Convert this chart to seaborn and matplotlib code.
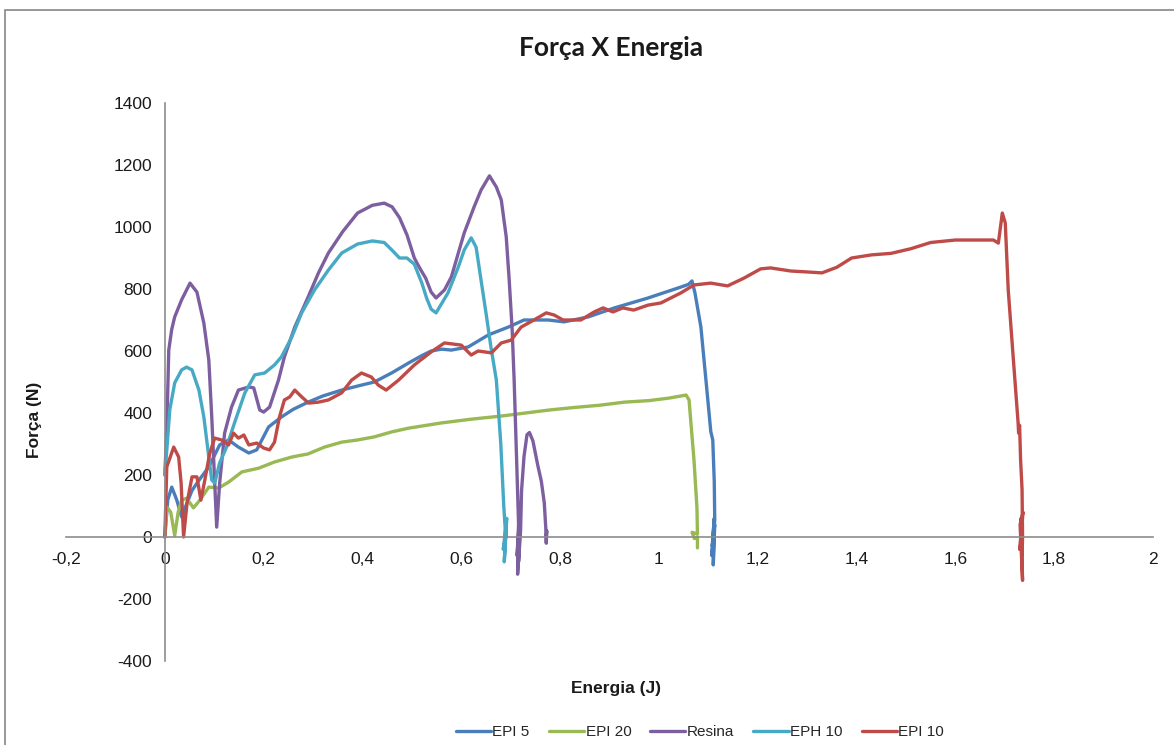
import matplotlib
matplotlib.use("Agg")
import matplotlib.pyplot as plt
from matplotlib.patches import Rectangle
from matplotlib.ticker import FuncFormatter
import numpy as np
import pandas as pd
import seaborn as sns

# Impact test curves: force (N) against absorbed energy (J)
epi5_e = [0, 0.006, 0.014, 0.024, 0.034, 0.045, 0.055, 0.07, 0.089, 0.111, 0.129, 0.149, 0.17, 0.186,
          0.21, 0.236, 0.26, 0.29, 0.32, 0.358, 0.398, 0.424, 0.46, 0.493, 0.52, 0.539, 0.56, 0.58, 0.614,
          0.655, 0.695, 0.727, 0.776, 0.808, 0.857, 0.91, 0.978, 1.044, 1.06, 1.067, 1.073, 1.085, 1.099,
          1.105, 1.109, 1.112, 1.113, 1.108, 1.112, 1.107, 1.113, 1.11, 1.111]
epi5_f = [0, 120, 161, 120, 65, 110, 150, 185, 226, 297, 313, 290, 271, 281,
          355, 387, 412, 435, 455, 474, 490, 500, 530, 561, 585, 600, 606, 603, 613,
          652, 677, 700, 700, 694, 710, 739, 771, 806, 815, 826, 787, 677, 442,
          340, 313, 180, 55, -30, 60, -60, 40, -90, 0]

epi20_e = [0, 0.004, 0.012, 0.02, 0.027, 0.034, 0.044, 0.058, 0.071, 0.089, 0.109, 0.129, 0.156, 0.19,
           0.222, 0.257, 0.29, 0.323, 0.358, 0.39, 0.424, 0.459, 0.493, 0.56, 0.62, 0.68, 0.73, 0.78,
           0.83, 0.88, 0.93, 0.98, 1.02, 1.045, 1.055, 1.061, 1.071, 1.077, 1.078, 1.067, 1.072, 1.078,
           1.078]
epi20_f = [0, 97, 80, 5, 80, 119, 125, 94, 119, 161, 158, 177, 210, 222,
           242, 258, 268, 290, 306, 313, 323, 339, 351, 368, 380, 390, 400, 410,
           418, 425, 435, 440, 448, 455, 458, 442, 248, 94, 10, 15, -5, 0,
           -35]

resina_e = [0, 0.004, 0.008, 0.014, 0.02, 0.034, 0.051, 0.065, 0.079, 0.089, 0.095, 0.101, 0.105,
            0.111, 0.121, 0.135, 0.149, 0.17, 0.18, 0.192, 0.2, 0.212, 0.23, 0.242, 0.263, 0.29,
            0.311, 0.331, 0.36, 0.39, 0.42, 0.444, 0.46, 0.475, 0.49, 0.505, 0.515, 0.528, 0.539,
            0.549, 0.566, 0.58, 0.594, 0.606, 0.626, 0.64, 0.657, 0.671, 0.681, 0.691, 0.697, 0.703,
            0.707, 0.712, 0.716, 0.713, 0.718, 0.714, 0.719, 0.716, 0.72, 0.722, 0.727, 0.733, 0.738,
            0.745, 0.755, 0.762, 0.768, 0.771, 0.772, 0.773, 0.772]
resina_f = [200, 350, 603, 670, 710, 765, 819, 790, 690, 571, 387, 174, 32,
            174, 335, 419, 474, 484, 481, 410, 403, 419, 506, 581, 677, 774,
            852, 916, 985, 1045, 1070, 1077, 1065, 1030, 975, 900, 870, 835, 790,
            771, 797, 839, 916, 981, 1065, 1119, 1165, 1129, 1087, 968, 829, 668,
            506, 250, 40, -60, 60, -120, 80, -80, 20, 150, 260, 330, 337,
            310, 230, 180, 110, 30, -20, 20, 0]

eph10_e = [0, 0.004, 0.01, 0.02, 0.034, 0.044, 0.055, 0.069, 0.079, 0.089, 0.095, 0.101, 0.111,
           0.125, 0.141, 0.162, 0.182, 0.202, 0.222, 0.236, 0.257, 0.277, 0.303, 0.331, 0.358, 0.39,
           0.42, 0.444, 0.46, 0.475, 0.49, 0.505, 0.52, 0.53, 0.539, 0.549, 0.573, 0.594, 0.606,
           0.62, 0.63, 0.64, 0.65, 0.66, 0.671, 0.68, 0.686, 0.69, 0.685, 0.692, 0.687, 0.691, 0.689]
eph10_f = [200, 281, 410, 497, 539, 548, 539, 474, 387, 258, 184, 174, 239,
           290, 368, 465, 523, 529, 555, 581, 645, 723, 797, 861, 916, 945,
           955, 950, 925, 900, 900, 880, 820, 770, 735, 723, 787, 871, 926,
           965, 935, 829, 723, 613, 506, 300, 100, 0, -40, 60, -80, 40, 0]

epi10_e = [0, 0.004, 0.018, 0.028, 0.033, 0.038, 0.045, 0.055, 0.065, 0.073, 0.081, 0.091, 0.101,
           0.115, 0.129, 0.139, 0.149, 0.16, 0.17, 0.186, 0.2, 0.212, 0.222, 0.232, 0.242, 0.253,
           0.263, 0.277, 0.291, 0.311, 0.331, 0.358, 0.378, 0.398, 0.418, 0.432, 0.448, 0.473, 0.505,
           0.539, 0.566, 0.6, 0.62, 0.634, 0.661, 0.681, 0.701, 0.721, 0.747, 0.772, 0.788, 0.806,
           0.842, 0.869, 0.887, 0.907, 0.927, 0.949, 0.978, 1.004, 1.044, 1.071, 1.105, 1.139, 1.172,
           1.206, 1.226, 1.267, 1.3, 1.33, 1.36, 1.39, 1.43, 1.47, 1.51, 1.55, 1.6, 1.64, 1.677,
           1.687, 1.695, 1.701, 1.707, 1.717, 1.727, 1.728, 1.73, 1.732, 1.735, 1.736, 1.73, 1.737,
           1.731, 1.736, 1.733, 1.735, 1.736]
epi10_f = [0, 226, 290, 258, 174, 0, 110, 194, 194, 119, 184, 271, 319,
           313, 297, 335, 319, 329, 297, 303, 287, 281, 306, 387, 442, 452,
           474, 452, 432, 435, 442, 465, 506, 529, 516, 490, 474, 506, 555,
           597, 626, 619, 587, 600, 594, 626, 635, 677, 700, 723, 716, 700,
           700, 726, 739, 726, 739, 732, 748, 755, 787, 813, 819, 810, 835,
           865, 868, 858, 855, 852, 870, 900, 910, 915, 930, 950, 958, 958, 958,
           948, 1045, 1013, 797, 581, 368, 335, 360, 250, 152, 0, -40, 80,
           40, -140, 60, -60, 0]

series_names = ["EPI 5", "EPI 20", "Resina", "EPH 10", "EPI 10"]
series_colors = ["#4A7EBB", "#98B954", "#7D5FA0", "#46AAC5", "#BE4B48"]
energy = [epi5_e, epi20_e, resina_e, eph10_e, epi10_e]
force = [epi5_f, epi20_f, resina_f, eph10_f, epi10_f]

x_ticks = [-0.2, 0, 0.2, 0.4, 0.6, 0.8, 1.0, 1.2, 1.4, 1.6, 1.8, 2.0]
y_ticks = [-400, -200, 0, 200, 400, 600, 800, 1000, 1200, 1400]

frames = []
for name, e, f in zip(series_names, energy, force):
    frames.append(pd.DataFrame({"Energia": e, "Força": f, "Série": name}))
df = pd.concat(frames, ignore_index=True)

sns.set_style("white")
plt.rcParams["font.family"] = ["Liberation Sans", "DejaVu Sans"]

fig = plt.figure(figsize=(11.74, 7.45), dpi=100)
fig.patch.set_facecolor("white")
ax = fig.add_axes([66 / 1174, 1 - 661 / 745, (1153 - 66) / 1174, (661 - 103) / 745])

sns.lineplot(data=df, x="Energia", y="Força", hue="Série", hue_order=series_names,
             palette=dict(zip(series_names, series_colors)), sort=False, estimator=None,
             units="Série", linewidth=2.4, ax=ax, legend=True)

ax.set_xlim(-0.2, 2.0)
ax.set_ylim(-400, 1400)
ax.set_xticks(x_ticks)
ax.set_yticks(y_ticks)

def comma_fmt(v, pos):
    return f"{v:g}".replace(".", ",")

ax.xaxis.set_major_formatter(FuncFormatter(comma_fmt))
ax.yaxis.set_major_formatter(FuncFormatter(lambda v, p: f"{int(round(v))}"))

for side in ("top", "right"):
    ax.spines[side].set_visible(False)
ax.spines["left"].set_position(("data", 0))
ax.spines["bottom"].set_position(("data", 0))
for side in ("left", "bottom"):
    ax.spines[side].set_color("#8C8C8C")
    ax.spines[side].set_linewidth(1.2)
ax.tick_params(axis="both", which="major", direction="out", length=5, width=1,
               color="#8C8C8C", labelsize=12.5, labelcolor="#1A1A1A")
ax.tick_params(axis="x", pad=6)
ax.tick_params(axis="y", pad=4)
ax.patch.set_alpha(0)

ax.set_xlabel("Energia (J)", fontsize=12.5, fontweight="bold", color="#1A1A1A")
ax.set_ylabel("Força (N)", fontsize=12.5, fontweight="bold", color="#1A1A1A")
ax.xaxis.set_label_coords((616 - 66) / 1087, -0.036)
ax.yaxis.set_label_coords(-0.022, (661 - 420) / 558)

fig.text(611 / 1174, 1 - 48 / 745, "Força X Energia", ha="center", va="center",
         fontsize=19, fontweight="bold", family=["Lato", "DejaVu Sans"],
         color="#1A1A1A")

handles, labels = ax.get_legend_handles_labels()
ax.get_legend().remove()
fig.legend(handles, labels, loc="center", bbox_to_anchor=(700 / 1174, 1 - 732 / 745),
           ncol=5, frameon=False, fontsize=11, handlelength=2.3, handletextpad=0.1,
           columnspacing=1.25)

fig.patches.append(Rectangle((5 / 1174, -0.2), 1.2, 0.2 + (1 - 10 / 745),
                             transform=fig.transFigure, fill=False,
                             edgecolor="#868686", linewidth=1.2))

fig.savefig("out.png", dpi=100, facecolor="white")
